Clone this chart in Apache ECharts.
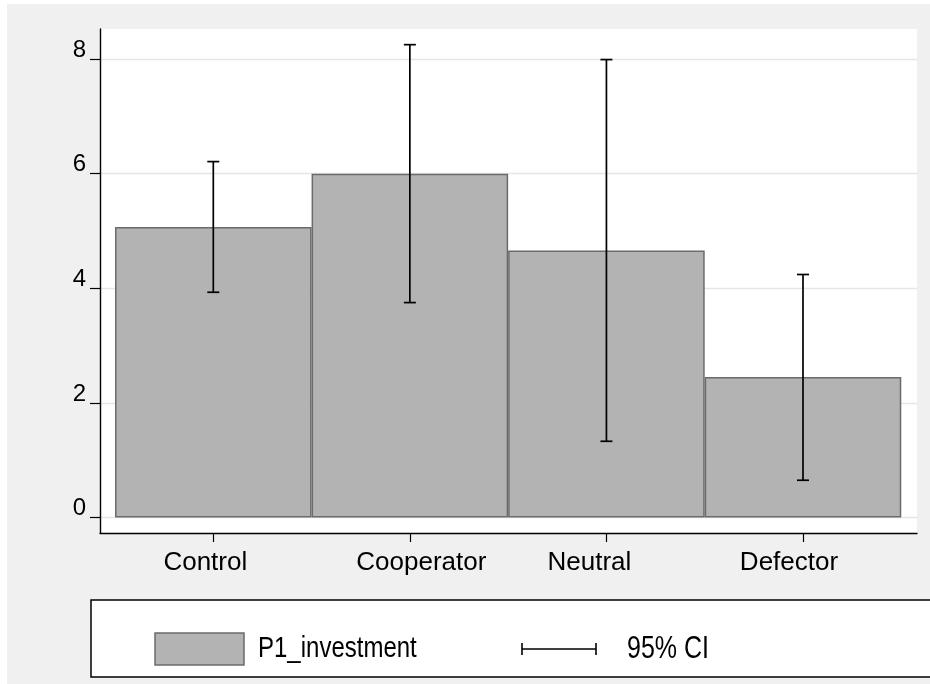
<!DOCTYPE html>
<html>
<head>
<meta charset="utf-8">
<script src="https://cdn.jsdelivr.net/npm/echarts@6/dist/echarts.min.js"></script>
<style>
  html, body { margin: 0; padding: 0; background: #fff; }
  #chart { width: 930px; height: 684px; }
</style>
</head>
<body>
<div id="chart"></div>
<script>
// Mean first-period investment by treatment, with 95% confidence bounds
const categories = ['Control', 'Cooperator', 'Neutral', 'Defector'];
const means      = [5.07, 6.00, 4.66, 2.45];
const ciLower    = [3.93, 3.75, 1.33, 0.65];
const ciUpper    = [6.21, 8.25, 7.99, 4.24];
const yTicks     = [0, 2, 4, 6, 8];
const seriesName = 'P1_investment';
const ciName     = '95% CI';

// horizontal nudge (px) of each category label relative to its tick
const labelShift = [-8, 11.5, -17, -14];

const catPos = categories.map((_, i) => i + 1);
const barData = catPos.map((x, i) => [x, means[i]]);
const ciData  = catPos.map((x, i) => [x, ciLower[i], ciUpper[i]]);

const chart = echarts.init(document.getElementById('chart'), null, { renderer: 'canvas' });

const FONT = "'Liberation Sans', Arial, Helvetica, sans-serif";
const BAR_FILL = '#b3b3b3';
const BAR_EDGE = '#6b6b6b';

// one rich style per category label, padded so the text sits off-centre
const catRich = {};
labelShift.forEach((d, i) => {
  catRich['c' + i] = {
    fontFamily: FONT, fontSize: 26, color: '#000',
    padding: d < 0 ? [0, -2 * d, 0, 0] : [0, 0, 0, 2 * d]
  };
});

function renderCI(params, api) {
  const x = api.value(0);
  const lo = api.coord([x, api.value(1)]);
  const hi = api.coord([x, api.value(2)]);
  const cap = 6;
  const style = { stroke: '#000', lineWidth: 1.7 };
  return {
    type: 'group',
    children: [
      { type: 'line', shape: { x1: lo[0], y1: lo[1], x2: hi[0], y2: hi[1] }, style },
      { type: 'line', shape: { x1: hi[0] - cap, y1: hi[1], x2: hi[0] + cap, y2: hi[1] }, style },
      { type: 'line', shape: { x1: lo[0] - cap, y1: lo[1], x2: lo[0] + cap, y2: lo[1] }, style }
    ]
  };
}

const option = {
  backgroundColor: '#fff',
  animation: false,
  grid: {
    left: 100, top: 29, right: 13, bottom: 151,
    show: true, backgroundColor: '#fff', borderWidth: 0,
    containLabel: false, outerBoundsMode: 'none'
  },
  xAxis: {
    type: 'value',
    min: 0.4236, max: 4.58,
    axisLine: { show: true, onZero: false, lineStyle: { color: '#000', width: 1.4 } },
    axisTick: { show: true, length: 9, customValues: catPos, lineStyle: { color: '#000', width: 1.2 } },
    axisLabel: {
      customValues: catPos,
      formatter: v => {
        const i = Math.round(v) - 1;
        return categories[i] ? '{c' + i + '|' + categories[i] + '}' : '';
      },
      rich: catRich,
      color: '#000', fontFamily: FONT, fontSize: 26, margin: 17
    },
    splitLine: { show: false }
  },
  yAxis: {
    type: 'value',
    min: -0.2704, max: 8.5235,
    axisLine: { show: true, onZero: false, lineStyle: { color: '#000', width: 1.4 } },
    axisTick: { show: true, length: 10, customValues: yTicks, lineStyle: { color: '#000', width: 1.2 } },
    axisLabel: {
      customValues: yTicks,
      color: '#000', fontFamily: FONT, fontSize: 24, margin: 14,
      verticalAlign: 'bottom', lineHeight: 18
    },
    splitLine: { show: true, lineStyle: { color: '#e6e6e6', width: 1.3 } }
  },
  series: [
    {
      name: seriesName,
      type: 'bar',
      data: barData,
      barWidth: '100%',
      z: 2,
      itemStyle: { color: BAR_FILL, borderColor: BAR_EDGE, borderWidth: 1.5 }
    },
    {
      name: ciName,
      type: 'custom',
      data: ciData,
      encode: { x: 0, y: [1, 2] },
      renderItem: renderCI,
      z: 3
    }
  ],
  graphic: [
    // graph region backdrop
    { type: 'rect', z: -10, shape: { x: 7, y: 4, width: 923, height: 680 }, style: { fill: '#f0f0f0' } },
    // legend box
    {
      type: 'group', z: 10,
      children: [
        { type: 'rect', shape: { x: 91, y: 600, width: 860, height: 77 }, style: { fill: '#fff', stroke: '#000', lineWidth: 1.5 } },
        { type: 'rect', shape: { x: 155, y: 633, width: 89, height: 32 }, style: { fill: BAR_FILL, stroke: BAR_EDGE, lineWidth: 1.5 } },
        { type: 'text', x: 258, y: 649, scaleY: 1.25, style: { text: seriesName, fill: '#000', font: "24px " + FONT, verticalAlign: 'middle', align: 'left' } },
        { type: 'line', shape: { x1: 522, y1: 649, x2: 596, y2: 649 }, style: { stroke: '#000', lineWidth: 1.6 } },
        { type: 'line', shape: { x1: 522, y1: 643, x2: 522, y2: 655 }, style: { stroke: '#000', lineWidth: 1.6 } },
        { type: 'line', shape: { x1: 596, y1: 643, x2: 596, y2: 655 }, style: { stroke: '#000', lineWidth: 1.6 } },
        { type: 'text', x: 627, y: 649, scaleY: 1.25, style: { text: ciName, fill: '#000', font: "25px " + FONT, verticalAlign: 'middle', align: 'left' } }
      ]
    }
  ]
};

chart.setOption(option);
</script>
</body>
</html>
